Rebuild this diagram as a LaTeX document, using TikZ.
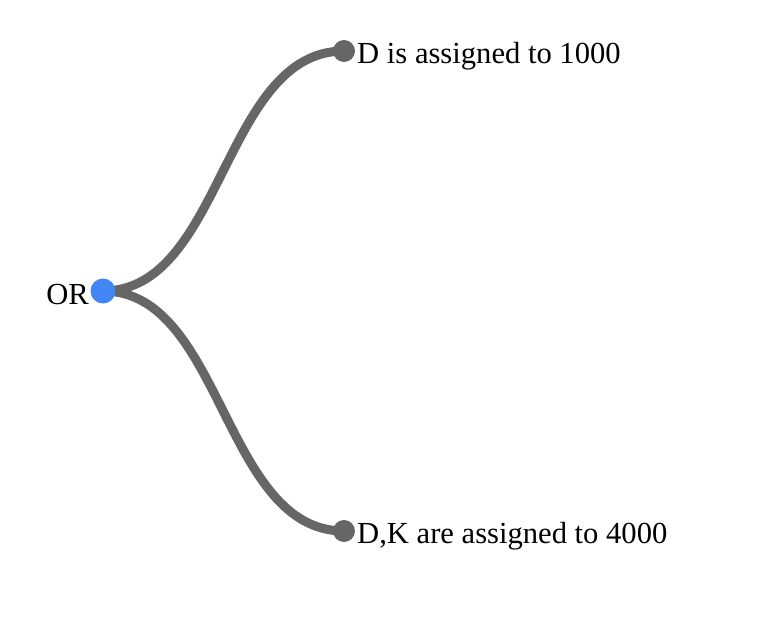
\documentclass[tikz,border=0pt]{standalone}
\usepackage{fontspec}
\setmainfont{Liberation Serif}
\usetikzlibrary{backgrounds}
\definecolor{linkgray}{HTML}{666666}
\definecolor{rootblue}{HTML}{4285F4}

\begin{document}
\begin{tikzpicture}[x=1pt,y=-1pt,
		rootdot/.style={circle,fill=rootblue,inner sep=0pt,minimum size=25pt},
		leafdot/.style={circle,fill=linkgray,inner sep=0pt,minimum size=22pt},
		leaftext/.style={font=\fontsize{30.6}{36}\selectfont,inner sep=0pt},
		link/.style={draw=linkgray,line width=9pt}]
		\useasboundingbox (0,0) rectangle (766,622);
		
		\node[rootdot] (or) at (103,291){};
		\node[leafdot] (d1000) at (344,51){};
		\node[leafdot] (dk4000) at (344,531){};
		
		\node[leaftext,anchor=base east] (orlabel) at ([xshift=-14pt,yshift=-13pt]or.center){OR};
		\node[leaftext,anchor=base west] (d1000label) at ([xshift=13pt,yshift=-12pt]d1000.center){D is assigned to 1000};
		\node[leaftext,anchor=base west] (dk4000label) at ([xshift=13pt,yshift=-12pt]dk4000.center){D,K are assigned to 4000};
		
		\begin{scope}[on background layer]
			\draw[link] (or.center) .. controls (223,291) and (223,51) .. (d1000.center);
			\draw[link] (or.center) .. controls (223,291) and (223,531) .. (dk4000.center);
		\end{scope}
	\end{tikzpicture}
\end{document}
